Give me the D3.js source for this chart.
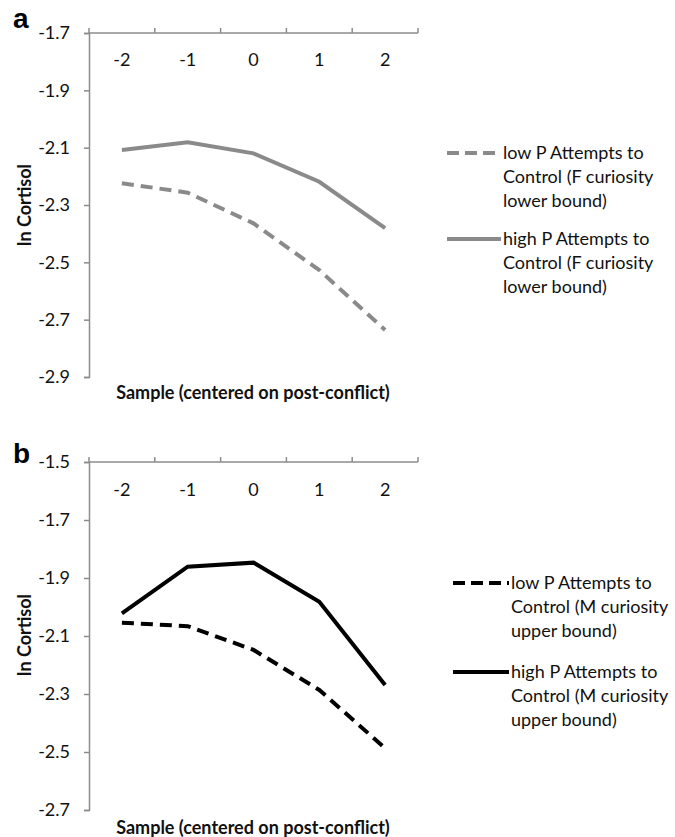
<!DOCTYPE html>
<html><head><meta charset="utf-8">
<script src="https://cdn.jsdelivr.net/npm/d3@7"></script>
<style>body{margin:0;background:#fff}svg{display:block}</style>
</head><body>
<svg id="c" width="675" height="837"></svg>
<script>
const samples = [-2, -1, 0, 1, 2];
const aLow  = [-2.224, -2.257, -2.364, -2.527, -2.736];
const aHigh = [-2.108, -2.081, -2.120, -2.219, -2.381];
const bLow  = [-2.054, -2.066, -2.148, -2.286, -2.487];
const bHigh = [-2.022, -1.861, -1.847, -1.982, -2.269];
const aTicks = [-1.7, -1.9, -2.1, -2.3, -2.5, -2.7, -2.9];
const bTicks = [-1.5, -1.7, -1.9, -2.1, -2.3, -2.5, -2.7];
const aLegend = [["low P Attempts to","Control (F curiosity","lower bound)"],["high P Attempts to","Control (F curiosity","lower bound)"]];
const bLegend = [["low P Attempts to","Control (M curiosity","upper bound)"],["high P Attempts to","Control (M curiosity","upper bound)"]];

const svg = d3.select("#c");
const FONT = "Lato, 'Open Sans', sans-serif";
const FS = 18;

function panel(o){
  const g = svg.append("g");
  const x = d3.scaleBand().domain(samples).range([89, 418]);
  const y = d3.scaleLinear().domain([o.ticks[0], o.ticks[o.ticks.length-1]]).range([o.top, o.bottom]);
  // y axis
  const ya = d3.axisLeft(y).tickValues(o.ticks).tickFormat(d=>d.toFixed(1)).tickSize(5).tickPadding(14);
  const yg = g.append("g").attr("transform","translate(89,0)").call(ya);
  yg.select(".domain").attr("stroke","#8c8c8c").attr("stroke-width",1.5);
  yg.selectAll(".tick line").attr("stroke","#8c8c8c").attr("stroke-width",1.5);
  yg.selectAll("text").attr("font-family",FONT).attr("font-size",FS).attr("fill","#111");
  // x axis at top
  const xa = d3.axisBottom(x).tickSize(0).tickPadding(0).tickFormat(d=>String(d));
  const xg = g.append("g").attr("transform",`translate(0,${o.top})`).call(xa);
  xg.select(".domain").attr("stroke","#8c8c8c").attr("stroke-width",1.5).attr("d",`M89,0H418`);
  xg.selectAll(".tick text").attr("font-family",FONT).attr("font-size",FS).attr("fill","#111")
    .attr("y",o.catY-o.top).attr("dy","0.35em");
  // tick marks between categories
  const tb = [89].concat(samples.map(s=>x(s)+x.bandwidth()));
  g.selectAll(".xt").data(tb).enter().append("line")
    .attr("x1",d=>d).attr("x2",d=>d).attr("y1",o.top).attr("y2",o.top-5)
    .attr("stroke","#8c8c8c").attr("stroke-width",1.5);
  const line = d3.line().x((d,i)=>x(samples[i])+x.bandwidth()/2).y(d=>y(d));
  g.append("path").datum(o.low).attr("d",line).attr("fill","none").attr("stroke",o.color)
    .attr("stroke-width",4).attr("stroke-dasharray","12,7");
  g.append("path").datum(o.high).attr("d",line).attr("fill","none").attr("stroke",o.color)
    .attr("stroke-width",4);
  // panel letter
  g.append("text").attr("x",13).attr("y",o.letterY).text(o.letter)
    .attr("font-family","Arial, 'Liberation Sans', sans-serif").attr("font-weight","bold").attr("font-size",28).attr("fill","#000");
  // y title
  g.append("text").attr("transform",`translate(31,${o.yTitle}) rotate(-90)`).attr("text-anchor","middle")
    .attr("font-family",FONT).attr("font-weight","bold").attr("font-size",FS).attr("fill","#111").text("ln Cortisol");
  // x title
  g.append("text").attr("x",253).attr("y",o.xTitle).attr("dy","0.35em").attr("text-anchor","middle")
    .attr("font-family",FONT).attr("font-weight","bold").attr("font-size",FS).attr("fill","#111").text("Sample (centered on post-conflict)");
  // legend
  o.legend.forEach((lines,k)=>{
    const ly = o.legY[k];
    g.append("line").attr("x1",o.legX1).attr("x2",o.legX2).attr("y1",ly).attr("y2",ly)
      .attr("stroke",o.color).attr("stroke-width",4).attr("stroke-dasharray",k===0?"12,6":null);
    lines.forEach((t,j)=>{
      g.append("text").attr("x",o.legX2+2).attr("y",ly+j*24).attr("dy","0.35em")
        .attr("font-family",FONT).attr("font-size",FS).attr("fill","#111").text(t);
    });
  });
}

panel({ticks:aTicks, top:33, bottom:377, catY:60, low:aLow, high:aHigh, color:"#8a8a8a",
  letter:"a", letterY:28, yTitle:205, xTitle:393, legend:aLegend, legY:[153,239], legX1:447, legX2:501});
panel({ticks:bTicks, top:462, bottom:810, catY:490, low:bLow, high:bHigh, color:"#000",
  letter:"b", letterY:463, yTitle:635, xTitle:828, legend:bLegend, legY:[583,672], legX1:453, legX2:509});
</script>
</body></html>
